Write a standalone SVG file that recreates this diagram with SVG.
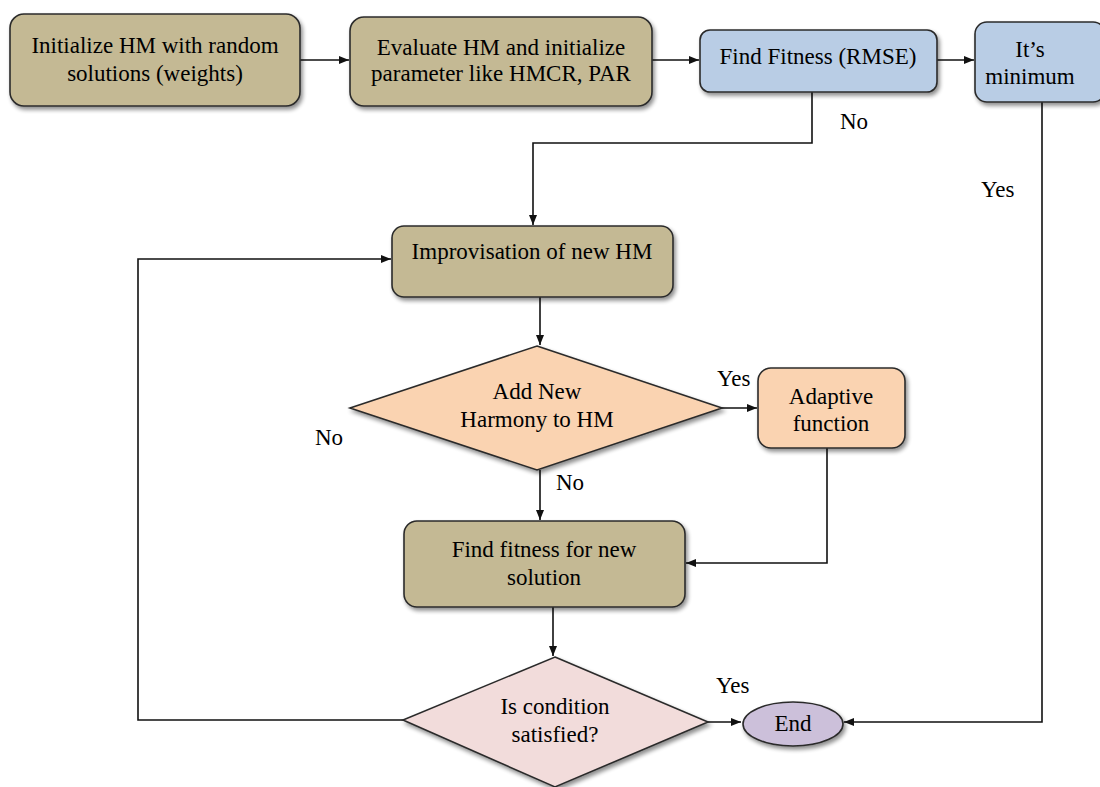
<svg xmlns="http://www.w3.org/2000/svg" width="1100" height="787" viewBox="0 0 1100 787">
<defs>
<filter id="sh" x="-10%" y="-10%" width="130%" height="140%">
<feGaussianBlur in="SourceAlpha" stdDeviation="2"/>
<feOffset dx="2" dy="3" result="b"/>
<feComponentTransfer><feFuncA type="linear" slope="0.45"/></feComponentTransfer>
<feMerge><feMergeNode/><feMergeNode in="SourceGraphic"/></feMerge>
</filter>
<marker id="ah" viewBox="0 0 10 10" refX="10" refY="5" markerWidth="10" markerHeight="10" markerUnits="userSpaceOnUse" orient="auto">
<path d="M0,1 L10,5 L0,9 z" fill="#111"/>
</marker>
</defs>
<rect width="1100" height="787" fill="#fff"/>
<g id="connectors" fill="none" stroke="#111" stroke-width="1.6">
<path d="M300,60 H349" marker-end="url(#ah)"/>
<path d="M652,60 H699" marker-end="url(#ah)"/>
<path d="M937,60 H974" marker-end="url(#ah)"/>
<path d="M812,92 V143 H533 V225" marker-end="url(#ah)"/>
<path d="M1042,102 V722 H844" marker-end="url(#ah)"/>
<path d="M540,297 V345" marker-end="url(#ah)"/>
<path d="M722,408 H757" marker-end="url(#ah)"/>
<path d="M827,448 V563 H686" marker-end="url(#ah)"/>
<path d="M540,470 V520" marker-end="url(#ah)"/>
<path d="M553,607 V656" marker-end="url(#ah)"/>
<path d="M403,720 H138 V259 H391" marker-end="url(#ah)"/>
<path d="M708,722 H741" marker-end="url(#ah)"/>
</g>
<g id="labels">
<text x="840" y="129" font-family="serif" font-size="23">No</text>
<text x="981" y="197" font-family="serif" font-size="23">Yes</text>
<text x="717" y="386" font-family="serif" font-size="23">Yes</text>
<text x="315" y="445" font-family="serif" font-size="23">No</text>
<text x="556" y="490" font-family="serif" font-size="23">No</text>
<text x="716" y="693" font-family="serif" font-size="23">Yes</text>
</g>
<g id="n1"><rect x="10" y="14" width="290" height="92" rx="14" fill="#c4b994" stroke="#2b2b2b" stroke-width="1.6" filter="url(#sh)"/>
<text x="155" y="53" text-anchor="middle" font-family="serif" font-size="23">Initialize HM with random</text>
<text x="155" y="81" text-anchor="middle" font-family="serif" font-size="23">solutions (weights)</text></g>
<g id="n2"><rect x="350" y="17" width="302" height="89" rx="14" fill="#c4b994" stroke="#2b2b2b" stroke-width="1.6" filter="url(#sh)"/>
<text x="501" y="55" text-anchor="middle" font-family="serif" font-size="23">Evaluate HM and initialize</text>
<text x="501" y="81" text-anchor="middle" font-family="serif" font-size="23">parameter like HMCR, PAR</text></g>
<g id="n3"><rect x="700" y="30" width="237" height="62" rx="10" fill="#b9cde5" stroke="#2b2b2b" stroke-width="1.6" filter="url(#sh)"/>
<text x="818" y="64" text-anchor="middle" font-family="serif" font-size="23">Find Fitness (RMSE)</text></g>
<g id="n4"><rect x="975" y="22" width="130" height="80" rx="12" fill="#b9cde5" stroke="#2b2b2b" stroke-width="1.6" filter="url(#sh)"/>
<text x="1030" y="57" text-anchor="middle" font-family="serif" font-size="23">It’s</text>
<text x="1030" y="84" text-anchor="middle" font-family="serif" font-size="23">minimum</text></g>
<g id="n5"><rect x="392" y="226" width="281" height="71" rx="12" fill="#c4b994" stroke="#2b2b2b" stroke-width="1.6" filter="url(#sh)"/>
<text x="532" y="259" text-anchor="middle" font-family="serif" font-size="23">Improvisation of new HM</text></g>
<g id="n6"><polygon points="537,346 722,408 537,470 350,408" fill="#fad3b1" stroke="#2b2b2b" stroke-width="1.6" filter="url(#sh)"/>
<text x="537" y="399" text-anchor="middle" font-family="serif" font-size="23">Add New</text>
<text x="537" y="427" text-anchor="middle" font-family="serif" font-size="23">Harmony to HM</text></g>
<g id="n7"><rect x="758" y="368" width="147" height="80" rx="13" fill="#fad3b1" stroke="#2b2b2b" stroke-width="1.6" filter="url(#sh)"/>
<text x="831" y="404" text-anchor="middle" font-family="serif" font-size="23">Adaptive</text>
<text x="831" y="431" text-anchor="middle" font-family="serif" font-size="23">function</text></g>
<g id="n8"><rect x="404" y="521" width="281" height="86" rx="13" fill="#c4b994" stroke="#2b2b2b" stroke-width="1.6" filter="url(#sh)"/>
<text x="544" y="557" text-anchor="middle" font-family="serif" font-size="23">Find fitness for new</text>
<text x="544" y="585" text-anchor="middle" font-family="serif" font-size="23">solution</text></g>
<g id="n9"><polygon points="555,657 708,722 555,787 403,720" fill="#f2dcdb" stroke="#2b2b2b" stroke-width="1.6" filter="url(#sh)"/>
<text x="555" y="714" text-anchor="middle" font-family="serif" font-size="23">Is condition</text>
<text x="555" y="742" text-anchor="middle" font-family="serif" font-size="23">satisfied?</text></g>
<g id="n10"><ellipse cx="793" cy="724" rx="50" ry="22" fill="#ccc0da" stroke="#2b2b2b" stroke-width="1.6" filter="url(#sh)"/>
<text x="793" y="731" text-anchor="middle" font-family="serif" font-size="23">End</text></g>
</svg>
